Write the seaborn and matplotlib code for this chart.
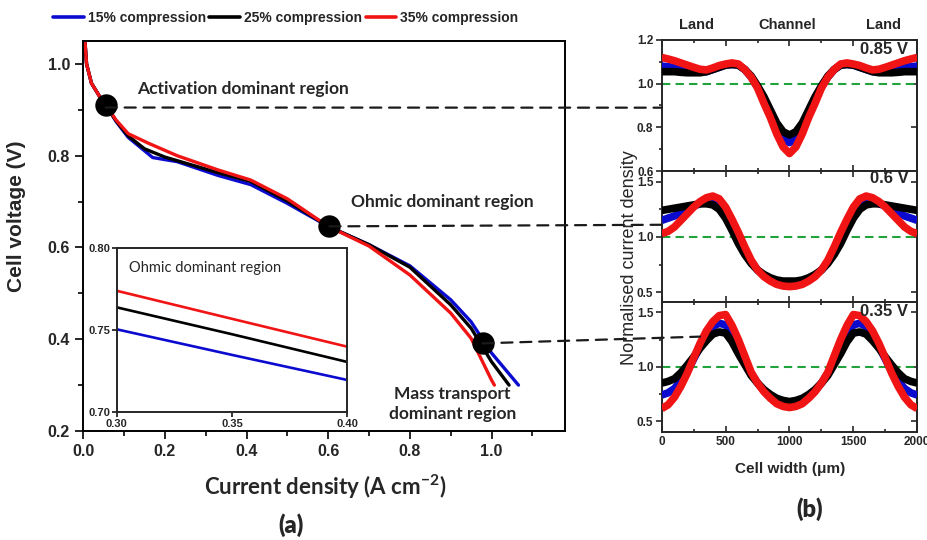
import numpy as np
import pandas as pd
import matplotlib
matplotlib.use("Agg")
import matplotlib.pyplot as plt
from matplotlib.patches import ConnectionPatch
from matplotlib.lines import Line2D
from matplotlib.ticker import MultipleLocator, FormatStrFormatter, FixedLocator
import seaborn as sns

sns.set_theme(style="ticks")
plt.rcParams["font.family"] = ["Liberation Sans", "DejaVu Sans"]
plt.rcParams["font.weight"] = "bold"
plt.rcParams["axes.linewidth"] = 1.4
plt.rcParams["mathtext.default"] = "regular"

# ---------------- data ----------------
series = ["15% compression", "25% compression", "35% compression"]
colors = ["#0b0bd0", "#000000", "#f01414"]

# (a) polarisation curves
j15 = [0.004, 0.008, 0.02, 0.04, 0.055, 0.08, 0.11, 0.17, 0.23, 0.33, 0.41, 0.5, 0.6, 0.7, 0.8, 0.9, 0.95, 1.0, 1.066]
v15 = [1.05, 1.0, 0.958, 0.929, 0.911, 0.875, 0.84, 0.796, 0.787, 0.757, 0.737, 0.696, 0.646, 0.606, 0.560, 0.486, 0.438, 0.370, 0.30]
j25 = [0.004, 0.008, 0.02, 0.04, 0.055, 0.08, 0.11, 0.15, 0.2, 0.33, 0.41, 0.5, 0.6, 0.7, 0.8, 0.9, 0.95, 1.0, 1.043]
v25 = [1.05, 1.0, 0.958, 0.929, 0.911, 0.876, 0.843, 0.815, 0.797, 0.763, 0.744, 0.701, 0.646, 0.606, 0.557, 0.475, 0.424, 0.351, 0.30]
j35 = [0.004, 0.008, 0.02, 0.04, 0.055, 0.08, 0.11, 0.16, 0.23, 0.33, 0.41, 0.5, 0.6, 0.7, 0.8, 0.9, 0.95, 1.0, 1.007]
v35 = [1.05, 1.0, 0.958, 0.929, 0.911, 0.878, 0.848, 0.827, 0.80, 0.769, 0.747, 0.706, 0.646, 0.603, 0.54, 0.457, 0.402, 0.311, 0.30]

# inset (ohmic region zoom)
inset_j = [0.30, 0.35, 0.40]
inset_v15 = [0.7506, 0.735, 0.7197]
inset_v25 = [0.764, 0.7476, 0.7307]
inset_v35 = [0.7741, 0.757, 0.740]

# highlighted operating points
point_j = [0.055, 0.603, 0.978]
point_v = [0.911, 0.646, 0.391]

# (b) normalised current density across the cell width (every 50 um)
width_um = [0, 50, 100, 150, 200, 250, 300, 350, 400, 450, 500, 550, 600, 650, 700, 750, 800, 850, 900, 950,
            1000, 1050, 1100, 1150, 1200, 1250, 1300, 1350, 1400, 1450, 1500, 1550, 1600, 1650, 1700, 1750,
            1800, 1850, 1900, 1950, 2000]
p085_15 = [1.08, 1.078, 1.075, 1.07, 1.065, 1.06, 1.055, 1.055, 1.065, 1.075, 1.085, 1.088, 1.085, 1.065, 1.03, 0.985, 0.93, 0.865, 0.80, 0.75,
           0.73, 0.75, 0.80, 0.865, 0.93, 0.985, 1.03, 1.065, 1.085, 1.088, 1.085, 1.075, 1.065, 1.055, 1.055, 1.06,
           1.065, 1.07, 1.075, 1.078, 1.08]
p085_25 = [1.055, 1.055, 1.055, 1.052, 1.05, 1.05, 1.05, 1.055, 1.065, 1.075, 1.085, 1.088, 1.085, 1.065, 1.035, 0.99, 0.94, 0.88, 0.82, 0.78,
           0.765, 0.78, 0.82, 0.88, 0.94, 0.99, 1.035, 1.065, 1.085, 1.088, 1.085, 1.075, 1.065, 1.055, 1.05, 1.05,
           1.05, 1.052, 1.055, 1.055, 1.055]
p085_35 = [1.12, 1.113, 1.105, 1.095, 1.085, 1.075, 1.066, 1.063, 1.072, 1.083, 1.09, 1.095, 1.09, 1.065, 1.03, 0.98, 0.91, 0.845, 0.77, 0.71,
           0.68, 0.71, 0.77, 0.845, 0.91, 0.98, 1.03, 1.065, 1.09, 1.095, 1.09, 1.083, 1.072, 1.063, 1.066, 1.075,
           1.085, 1.095, 1.105, 1.113, 1.12]
p06_15 = [1.15, 1.17, 1.19, 1.22, 1.25, 1.28, 1.30, 1.32, 1.32, 1.29, 1.22, 1.11, 0.98, 0.87, 0.77, 0.70, 0.65, 0.62, 0.60, 0.585,
          0.58, 0.585, 0.60, 0.62, 0.65, 0.70, 0.77, 0.87, 0.98, 1.11, 1.22, 1.29, 1.32, 1.32, 1.30, 1.28,
          1.25, 1.22, 1.19, 1.17, 1.15]
p06_25 = [1.24, 1.25, 1.26, 1.27, 1.28, 1.29, 1.30, 1.30, 1.29, 1.25, 1.17, 1.06, 0.94, 0.84, 0.76, 0.70, 0.66, 0.63, 0.61, 0.60,
          0.60, 0.60, 0.61, 0.63, 0.66, 0.70, 0.76, 0.84, 0.94, 1.06, 1.17, 1.25, 1.29, 1.30, 1.30, 1.29,
          1.28, 1.27, 1.26, 1.25, 1.24]
p06_35 = [1.03, 1.05, 1.09, 1.15, 1.21, 1.27, 1.32, 1.355, 1.37, 1.345, 1.27, 1.16, 1.04, 0.91, 0.79, 0.70, 0.64, 0.60, 0.57, 0.555,
          0.55, 0.555, 0.57, 0.60, 0.64, 0.70, 0.79, 0.91, 1.04, 1.16, 1.27, 1.345, 1.37, 1.355, 1.32, 1.27,
          1.21, 1.15, 1.09, 1.05, 1.03]
p035_15 = [0.74, 0.76, 0.80, 0.87, 0.955, 1.07, 1.185, 1.29, 1.37, 1.40, 1.385, 1.30, 1.18, 1.06, 0.94, 0.85, 0.78, 0.72, 0.68, 0.66,
           0.65, 0.66, 0.68, 0.72, 0.78, 0.85, 0.94, 1.06, 1.18, 1.30, 1.385, 1.40, 1.37, 1.29, 1.185, 1.07,
           0.955, 0.87, 0.80, 0.76, 0.74]
p035_25 = [0.85, 0.865, 0.89, 0.945, 1.015, 1.09, 1.17, 1.24, 1.30, 1.32, 1.31, 1.23, 1.12, 1.02, 0.92, 0.85, 0.79, 0.745, 0.71, 0.69,
           0.68, 0.69, 0.71, 0.745, 0.79, 0.85, 0.92, 1.02, 1.12, 1.23, 1.31, 1.32, 1.30, 1.24, 1.17, 1.09,
           1.015, 0.945, 0.89, 0.865, 0.85]
p035_35 = [0.615, 0.65, 0.72, 0.82, 0.94, 1.08, 1.215, 1.33, 1.415, 1.47, 1.48, 1.38, 1.25, 1.10, 0.95, 0.85, 0.77, 0.71, 0.66, 0.635,
           0.625, 0.635, 0.66, 0.71, 0.77, 0.85, 0.95, 1.10, 1.25, 1.38, 1.48, 1.47, 1.415, 1.33, 1.215, 1.08,
           0.94, 0.82, 0.72, 0.65, 0.615]
voltages = ["0.85 V", "0.6 V", "0.35 V"]

# ---------------- figure ----------------
W, H = 928, 540
fig = plt.figure(figsize=(W / 100, H / 100), dpi=100)


def rect(l, t, r, b):
    return [l / W, 1 - b / H, (r - l) / W, (b - t) / H]


def bold_ticks(a):
    for lab in a.get_xticklabels() + a.get_yticklabels():
        lab.set_fontweight("bold")
        lab.set_family(["Liberation Sans", "DejaVu Sans"])


palette = dict(zip(series, colors))
CAL = ["Lato", "DejaVu Sans"]

# main panel (a)
ax = fig.add_axes(rect(83.3, 41, 565, 431))
df_a = pd.concat([
    pd.DataFrame({"j": j15, "V": v15, "series": series[0]}),
    pd.DataFrame({"j": j25, "V": v25, "series": series[1]}),
    pd.DataFrame({"j": j35, "V": v35, "series": series[2]}),
], ignore_index=True)
sns.lineplot(data=df_a, x="j", y="V", hue="series", palette=palette, sort=False,
             estimator=None, lw=2.4, ax=ax, legend=False)
ax.scatter(point_j, point_v, s=260, color="black", zorder=6, linewidths=0)
ax.set_xlim(0, 1.18)
ax.set_ylim(0.2, 1.05)
ax.xaxis.set_major_locator(FixedLocator([0.0, 0.2, 0.4, 0.6, 0.8, 1.0]))
ax.xaxis.set_minor_locator(MultipleLocator(0.1))
ax.yaxis.set_major_locator(MultipleLocator(0.2))
ax.yaxis.set_minor_locator(MultipleLocator(0.1))
ax.xaxis.set_major_formatter(FormatStrFormatter("%.1f"))
ax.yaxis.set_major_formatter(FormatStrFormatter("%.1f"))
ax.tick_params(which="both", direction="out", width=1.4, labelsize=11.5, top=False, right=False)
ax.tick_params(which="major", length=6)
ax.tick_params(which="minor", length=3.5)
ax.set_xlabel("")
ax.set_ylabel("")
for s in ax.spines.values():
    s.set_color("black")
bold_ticks(ax)

ax.text(0.133, 0.945, "Activation dominant region", family=CAL, fontsize=12.5,
        fontweight="bold", ha="left", va="center")
ax.text(0.656, 0.700, "Ohmic dominant region", family=CAL, fontsize=12.5,
        fontweight="bold", ha="left", va="center")
ax.text(0.905, 0.259, "Mass transport\ndominant region", family=CAL, fontsize=12.5,
        fontweight="bold", ha="center", va="center", linespacing=1.25)

# inset
axin = fig.add_axes(rect(116.7, 248.3, 347.3, 412.3))
df_in = pd.concat([
    pd.DataFrame({"j": inset_j, "V": inset_v15, "series": series[0]}),
    pd.DataFrame({"j": inset_j, "V": inset_v25, "series": series[1]}),
    pd.DataFrame({"j": inset_j, "V": inset_v35, "series": series[2]}),
], ignore_index=True)
sns.lineplot(data=df_in, x="j", y="V", hue="series", palette=palette, sort=False,
             estimator=None, lw=1.9, ax=axin, legend=False)
axin.set_xlim(0.30, 0.40)
axin.set_ylim(0.70, 0.80)
axin.set_xticks([0.30, 0.35, 0.40])
axin.set_yticks([0.70, 0.75, 0.80])
axin.xaxis.set_major_formatter(FormatStrFormatter("%.2f"))
axin.yaxis.set_major_formatter(FormatStrFormatter("%.2f"))
axin.tick_params(direction="out", length=3.5, width=1.3, labelsize=8, pad=1)
axin.set_xlabel("")
axin.set_ylabel("")
bold_ticks(axin)
axin.text(0.055, 0.878, "Ohmic dominant region", family=CAL, fontsize=10.5,
          fontweight="normal", transform=axin.transAxes, ha="left", va="center")

# right panels (b)
edges = [40, 171, 301.5, 432]
profiles = [(p085_15, p085_25, p085_35), (p06_15, p06_25, p06_35), (p035_15, p035_25, p035_35)]
ylims = [(0.6, 1.2), (0.415, 1.597), (0.4, 1.6)]
axb = []
for i in range(3):
    a = fig.add_axes(rect(661.7, edges[i], 917.3, edges[i + 1]))
    axb.append(a)
    a.axhline(1.0, color="#1fa33a", ls=(0, (4, 2.5)), lw=1.5, zorder=1)
    df_b = pd.concat([
        pd.DataFrame({"w": width_um, "n": profiles[i][k], "series": series[k]}) for k in range(3)
    ], ignore_index=True)
    sns.lineplot(data=df_b, x="w", y="n", hue="series", palette=palette, sort=False,
                 estimator=None, lw=5.5, ax=a, legend=False, zorder=3)
    for ln in a.get_lines():
        ln.set_solid_joinstyle("round")
        ln.set_solid_capstyle("butt")
    a.set_xlim(0, 2000)
    a.set_ylim(*ylims[i])
    a.xaxis.set_major_locator(MultipleLocator(500))
    a.xaxis.set_minor_locator(MultipleLocator(250))
    if i == 0:
        a.yaxis.set_major_locator(MultipleLocator(0.2))
        a.yaxis.set_minor_locator(MultipleLocator(0.1))
    else:
        a.yaxis.set_major_locator(MultipleLocator(0.5))
        a.yaxis.set_minor_locator(MultipleLocator(0.25))
    a.yaxis.set_major_formatter(FormatStrFormatter("%.1f"))
    a.tick_params(axis="x", which="both", direction="in", top=True, bottom=True,
                  labelbottom=(i == 2), width=1.2, labelsize=8.5, pad=3)
    a.tick_params(axis="x", which="major", length=4.5)
    a.tick_params(axis="x", which="minor", length=2.5)
    a.tick_params(axis="y", which="both", direction="out", left=True, right=False,
                  width=1.2, labelsize=8.5, pad=2)
    a.tick_params(axis="y", which="major", length=4)
    a.tick_params(axis="y", which="minor", length=2.5)
    sec = a.secondary_yaxis("right")
    sec.yaxis.set_major_locator(a.yaxis.get_major_locator())
    sec.tick_params(direction="in", length=4, width=1.2, labelright=False)
    sec.spines["right"].set_linewidth(1.4)
    a.set_xlabel("")
    a.set_ylabel("")
    bold_ticks(a)
    yfrac = [0.926, 0.944, 0.922][i]
    a.text(0.965, yfrac, voltages[i], transform=a.transAxes, ha="right", va="center",
           fontsize=12, fontweight="bold", zorder=5)

top = axb[0]
for xpos, lab in zip([274, 978, 1732], ["Land", "Channel", "Land"]):
    top.text(xpos, 1.115, lab, transform=top.get_xaxis_transform(), ha="center",
             va="center", fontsize=10.5, fontweight="bold")

# connectors between the operating points and the profiles
targets = [(axb[0], 0.0, 0.89), (axb[1], 0.0, 1.11), (axb[2], 300, 1.277)]
starts = [(point_j[0], 0.905), (point_j[1], point_v[1]), (point_j[2], point_v[2])]
for (tax, xb, yb), (xa, ya) in zip(targets, starts):
    con = ConnectionPatch(xyA=(xa, ya), coordsA=ax.transData, xyB=(xb, yb),
                          coordsB=tax.transData, color="#1a1a1a", lw=1.6,
                          ls=(0, (5, 3.5)), zorder=2)
    fig.add_artist(con)

# legend
handles = [Line2D([], [], color=c, lw=2.6) for c in colors]
fig.legend(handles, series, loc="center left", bbox_to_anchor=(53 / W, 1 - 18 / H),
           ncol=3, frameon=False, handlelength=2.2, handletextpad=0.3,
           columnspacing=0.25, borderpad=0, borderaxespad=0,
           prop={"family": "Liberation Sans", "weight": "bold", "size": 10})

# figure-level labels
fig.text(17 / W, 1 - 216 / H, "Cell voltage (V)", rotation=90, ha="center", va="center",
         fontsize=15, fontweight="bold")
fig.text(325 / W, 1 - 487 / H, "Current density (A cm$^{\\mathregular{-2}}$)", family=CAL,
         ha="center", va="center", fontsize=16, fontweight="bold")
fig.text(291 / W, 1 - 525 / H, "(a)", family=CAL, ha="center", va="center",
         fontsize=17, fontweight="heavy")
fig.text(630 / W, 1 - 258 / H, "Normalised current density", rotation=90, ha="center",
         va="center", fontsize=13, fontweight="normal")
fig.text(790 / W, 1 - 469 / H, "Cell width (\u03bcm)", ha="center", va="center",
         fontsize=11, fontweight="bold")
fig.text(810 / W, 1 - 509 / H, "(b)", family=CAL, ha="center", va="center",
         fontsize=17, fontweight="heavy")

fig.savefig("out.png", dpi=100)
